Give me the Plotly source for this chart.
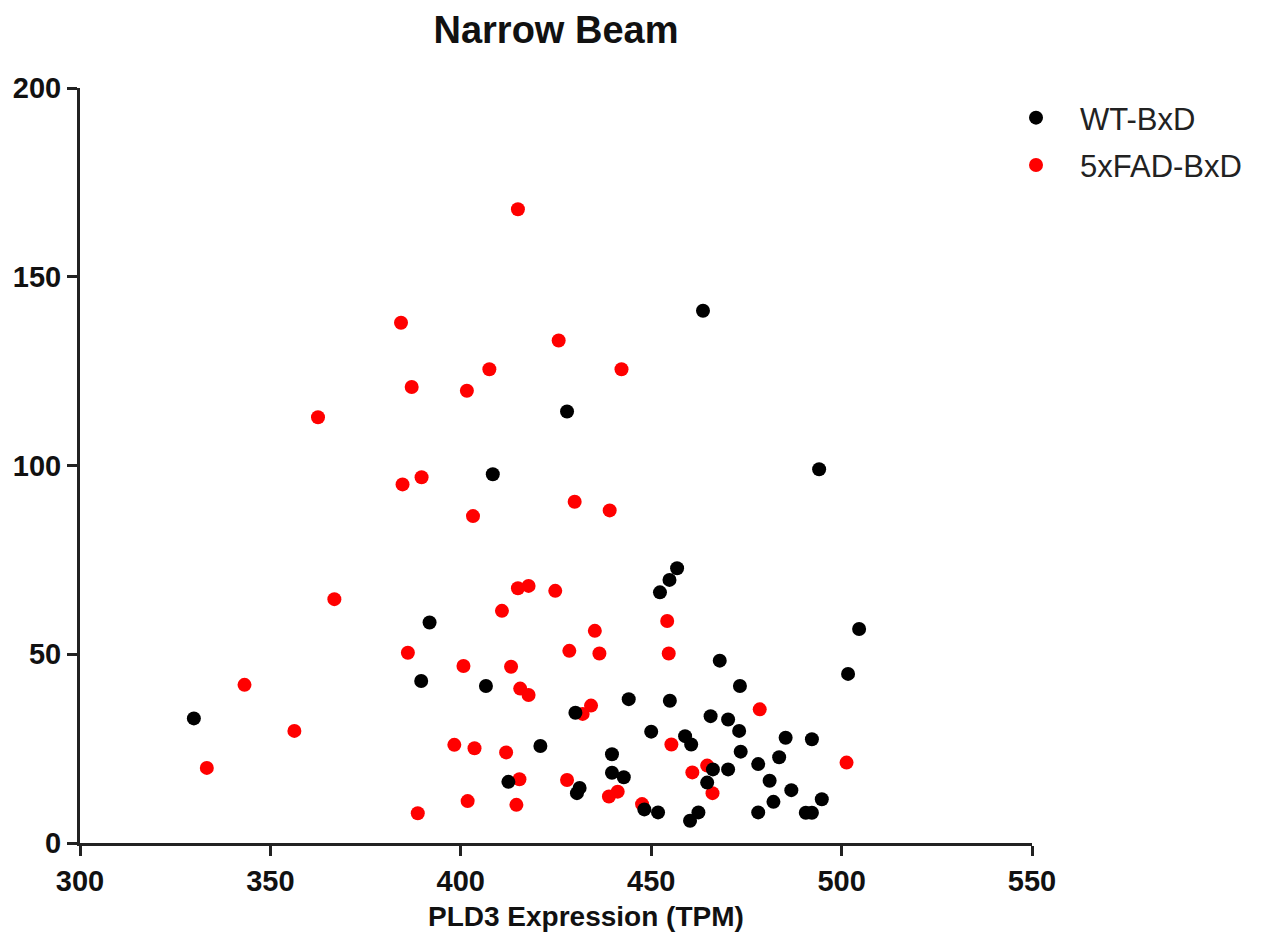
import plotly.graph_objects as go

# WT-BxD (black)
wt_x = [329.9, 427.9, 408.4, 391.8, 389.6, 406.6, 430.1, 420.9, 412.5, 463.6,
        494.1, 456.8, 454.8, 452.3, 504.6, 468.0, 501.7, 473.3, 444.1, 454.9,
        465.6, 470.2, 450.0, 473.1, 458.9, 460.5, 485.3, 492.2, 473.5, 439.7,
        478.1, 483.6, 466.2, 470.2, 439.7, 442.8, 481.1, 464.7, 431.2, 430.5,
        486.8, 482.1, 494.8, 448.2, 451.8, 478.1, 490.6, 492.2, 462.4, 460.2]
wt_y = [33.0, 114.3, 97.7, 58.4, 42.9, 41.6, 34.5, 25.7, 16.2, 141.0,
        99.0, 72.8, 69.7, 66.4, 56.7, 48.3, 44.8, 41.6, 38.1, 37.7,
        33.6, 32.7, 29.5, 29.7, 28.3, 26.1, 27.9, 27.5, 24.2, 23.5,
        20.9, 22.7, 19.5, 19.5, 18.6, 17.4, 16.5, 16.0, 14.6, 13.2,
        14.0, 10.9, 11.6, 8.9, 8.1, 8.1, 8.0, 8.0, 8.1, 5.9]

# 5xFAD-BxD (red)
fad_x = [343.2, 356.3, 333.3, 415.0, 384.3, 425.7, 407.5, 387.1, 401.6, 362.5,
         384.7, 389.7, 429.9, 403.2, 366.8, 415.0, 417.8, 424.8, 410.8, 386.1,
         428.5, 400.7, 413.2, 415.6, 417.8, 398.3, 403.6, 411.9, 415.4, 427.9,
         401.8, 414.6, 388.7, 442.2, 439.1, 454.2, 435.2, 436.4, 454.6, 434.2,
         432.0, 478.5, 455.3, 464.7, 460.8, 501.3, 466.1, 441.2, 438.9, 447.6]
fad_y = [41.9, 29.7, 19.9, 167.9, 137.8, 133.1, 125.5, 120.8, 119.8, 112.8,
         95.0, 96.9, 90.4, 86.6, 64.6, 67.5, 68.1, 66.8, 61.5, 50.4,
         50.9, 46.9, 46.7, 40.9, 39.2, 26.0, 25.1, 24.0, 16.9, 16.7,
         11.1, 10.1, 7.9, 125.5, 88.1, 58.8, 56.2, 50.2, 50.2, 36.4,
         34.2, 35.4, 26.1, 20.5, 18.7, 21.3, 13.2, 13.6, 12.3, 10.3]

x_ticks = [300, 350, 400, 450, 500, 550]
y_ticks = [0, 50, 100, 150, 200]

FONT = "Liberation Sans, Arial, Helvetica, sans-serif"

fig = go.Figure()
fig.add_trace(go.Scatter(x=fad_x, y=fad_y, mode="markers", name="5xFAD-BxD",
                         legendrank=2, legendgroup="b",
                         marker=dict(color="#ff0000", size=14, line=dict(width=0)),
                         cliponaxis=False))
fig.add_trace(go.Scatter(x=wt_x, y=wt_y, mode="markers", name="WT-BxD",
                         legendrank=1, legendgroup="a",
                         marker=dict(color="#000000", size=14, line=dict(width=0)),
                         cliponaxis=False))

axis_common = dict(showgrid=False, zeroline=False, showline=True, automargin=False,
                   linecolor="#222222", linewidth=3, ticks="outside",
                   ticklen=10, tickwidth=3, tickcolor="#222222",
                   tickfont=dict(family=FONT, size=29, color="#111111", weight="bold"))

fig.update_xaxes(range=[300, 550], tickvals=x_ticks, **axis_common)
fig.update_yaxes(range=[0, 200], tickvals=y_ticks, **axis_common)

fig.add_annotation(text="<b>PLD3 Expression (TPM)</b>", xref="paper", yref="paper",
                   x=0.5315, y=-0.0967, xanchor="center", yanchor="middle",
                   showarrow=False,
                   font=dict(family=FONT, size=28, color="#111111"))

fig.update_layout(
    width=1261, height=941,
    margin=dict(l=72, r=237, t=80, b=106),
    plot_bgcolor="white", paper_bgcolor="white",
    title=dict(text="<b>Narrow Beam</b>", x=548/1261, xanchor="center",
               y=1 - 22/941, yanchor="middle", yref="container",
               font=dict(family=FONT, size=38, color="#111111")),
    legend=dict(x=0.958, y=0.996, xanchor="left", yanchor="top",
                font=dict(family=FONT, size=31, color="#222222"),
                traceorder="grouped", tracegroupgap=4,
                itemwidth=78, bgcolor="rgba(0,0,0,0)"),
    showlegend=True,
)

fig.write_html("out.html")
